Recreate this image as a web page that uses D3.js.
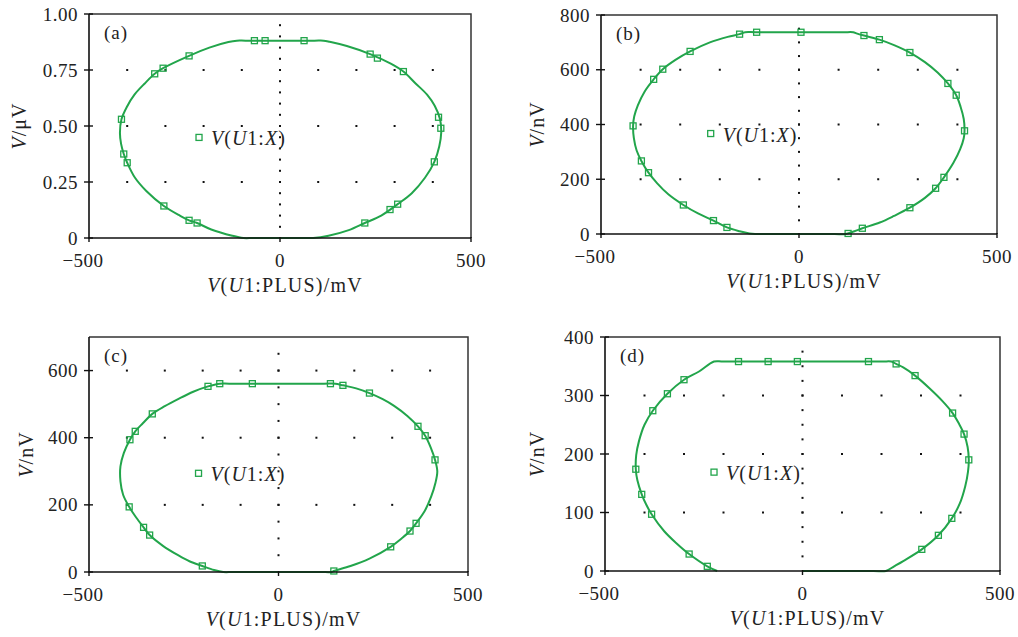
<!DOCTYPE html>
<html lang="en">
<head>
  <meta charset="UTF-8">
  <title>V(U1:X) vs V(U1:PLUS)</title>
  <script src="https://d3js.org/d3.v7.min.js"></script>
  <style>
    body { margin: 0; background: #fff; }
    text { font-family: "Liberation Serif", "Times New Roman", serif; fill: #222; }
  </style>
</head>
<body>
  <svg width="1018" height="637"></svg>

  <script>
    // x axis is shared by all panels (mV)
    const xTicks = [-500, 0, 500];
    const xTickLabels = ["\u2212500", "0", "500"];
    const xGridCols = [-400, -300, -200, -100, 0, 100, 200, 300, 400];

    // panel (a): V in uV
    const aYTicks = [0, 0.25, 0.5, 0.75, 1.0];
    const aYTickLabels = ["0", "0.25", "0.50", "0.75", "1.00"];
    const aCurve = [[0,0],[60,0],[87,0],[127,0.01],[180,0.035],[222,0.067],[265,0.1],[308,0.151],[345,0.2],
      [380,0.27],[404,0.34],[417,0.41],[422,0.47],[419,0.53],[405,0.59],[385,0.64],[355,0.69],[323,0.743],
      [290,0.778],[236,0.821],[175,0.857],[130,0.876],[114,0.881],[90,0.881],[-90,0.881],[-113,0.881],
      [-135,0.875],[-185,0.85],[-238,0.813],[-306,0.758],[-328,0.733],[-354,0.69],[-381,0.64],[-401,0.585],
      [-415,0.53],[-419,0.47],[-416,0.42],[-409,0.375],[-400,0.336],[-380,0.27],[-350,0.21],[-304,0.143],
      [-262,0.1],[-238,0.079],[-217,0.067],[-180,0.038],[-125,0.01],[-96,0],[-70,0],[0,0]];
    const aMarkers = [[-67,0.881],[-39,0.881],[63,0.881],[236,0.821],[255,0.803],[323,0.743],[415,0.539],[421,0.490],
      [404,0.340],[308,0.151],[288,0.127],[222,0.067],[-217,0.067],[-238,0.079],[-304,0.143],[-400,0.336],
      [-409,0.375],[-415,0.530],[-328,0.733],[-306,0.758],[-238,0.813]];
    const aLegend = [-212, 0.449];

    // panel (b): V in nV
    const bYTicks = [0, 200, 400, 600, 800];
    const bYTickLabels = ["0", "200", "400", "600", "800"];
    const bCurve = [[0,0],[90,0],[118,0],[140,10],[160,21],[204,42],[240,66],[280,96],[318,132],[345,167],
      [366,207],[390,260],[407,310],[416,350],[418,377],[416,420],[408,465],[397,507],[376,550],[350,590],
      [318,628],[280,663],[240,690],[203,710],[164,725],[145,733],[137,737],[110,737],[-110,737],[-136,737],
      [-150,730],[-180,720],[-225,700],[-275,667],[-312,636],[-344,602],[-367,565],[-390,520],[-407,470],
      [-416,430],[-419,395],[-417,350],[-410,305],[-398,267],[-380,224],[-358,185],[-330,145],[-292,106],
      [-255,75],[-216,49],[-182,24],[-150,10],[-125,2],[-111,0],[-85,0],[0,0]];
    const bMarkers = [[-419,395],[-398,267],[-380,224],[-292,106],[-216,49],[-182,24],[124,2],[160,21],[280,96],
      [345,167],[366,207],[397,507],[376,550],[418,377],[280,663],[203,710],[164,725],[5,737],[-107,737],
      [-150,730],[-275,667],[-344,602],[-367,565]];
    const bLegend = [-223, 367];

    // panel (c): V in nV
    const cYTicks = [0, 200, 400, 600];
    const cYTickLabels = ["0", "200", "400", "600"];
    const cCurve = [[0,0],[110,0],[140,0],[146,3],[190,18],[240,40],[296,75],[325,100],[347,122],[363,145],
      [385,180],[403,225],[414,265],[419,300],[413,334],[402,370],[387,406],[368,434],[340,465],[305,495],
      [275,515],[240,533],[205,547],[170,556],[150,561],[120,561],[-130,561],[-155,561],[-186,553],[-225,537],
      [-265,515],[-300,494],[-333,471],[-358,443],[-378,419],[-392,394],[-408,355],[-417,315],[-417,270],
      [-410,230],[-394,194],[-376,163],[-356,133],[-340,110],[-305,78],[-265,50],[-235,32],[-201,18],
      [-170,6],[-146,0],[-120,0],[0,0]];
    const cMarkers = [[-394,194],[-392,394],[-378,419],[-333,471],[-356,133],[-340,110],[-201,18],[-186,553],
      [-155,561],[-69,561],[137,561],[170,556],[240,533],[368,434],[387,406],[413,334],[363,145],[347,122],
      [296,75],[146,3]];
    const cLegend = [-211, 294];

    // panel (d): V in nV (trace is open: left end stops at -216 mV)
    const dYTicks = [0, 100, 200, 300, 400];
    const dYTickLabels = ["0", "100", "200", "300", "400"];
    const dCurve = [[0,0],[180,0],[211,0],[232,8],[255,17],[302,37],[344,61],[378,90],[398,115],[412,145],
      [419,170],[421,190],[418,212],[409,234],[396,252],[380,270],[355,290],[322,312],[285,334],[255,348],
      [237,354],[225,358],[200,358],[-200,358],[-224,358],[-262,341],[-300,327],[-342,303],[-379,274],
      [-400,250],[-414,222],[-421,198],[-422,174],[-418,155],[-407,131],[-396,114],[-382,97],[-350,68],
      [-320,48],[-287,29],[-241,8],[-216,0]];
    const dMarkers = [[-162,358],[-87,358],[-13,358],[167,358],[237,354],[285,334],[380,270],[409,234],[421,190],
      [378,90],[344,61],[302,37],[-241,8],[-287,29],[-382,97],[-407,131],[-422,174],[-379,274],[-342,303],
      [-300,327]];
    const dLegend = [-224, 169];

    const green = "#22a54b";
    const svg = d3.select("svg");

    const panels = [
      {tag: "(a)", unit: "\u03bcV", box: [89, 471, 14, 238], yMax: 1.0, yTicks: aYTicks, yLabels: aYTickLabels,
       dotStep: 0.05, dotTop: 0.95, curve: aCurve, markers: aMarkers, legend: aLegend, titleOff: 70},
      {tag: "(b)", unit: "nV", box: [601, 997, 15, 234], yMax: 800, yTicks: bYTicks, yLabels: bYTickLabels,
       dotStep: 50, dotTop: 750, curve: bCurve, markers: bMarkers, legend: bLegend, titleOff: 64},
      {tag: "(c)", unit: "nV", box: [89, 468, 337, 572], yMax: 700, yTicks: cYTicks, yLabels: cYTickLabels,
       dotStep: 50, dotTop: 650, curve: cCurve, markers: cMarkers, legend: cLegend, titleOff: 63},
      {tag: "(d)", unit: "nV", box: [605, 1000, 337, 571], yMax: 400, yTicks: dYTicks, yLabels: dYTickLabels,
       dotStep: 25, dotTop: 375, curve: dCurve, markers: dMarkers, legend: dLegend, titleOff: 68}
    ];

    panels.forEach(p => {
      const [left, right, top, bottom] = p.box;
      const x = d3.scaleLinear().domain([-500, 500]).range([left, right]);
      const y = d3.scaleLinear().domain([0, p.yMax]).range([bottom, top]);
      const g = svg.append("g");

      // dotted grid: rows at interior y ticks, column at x = 0
      const rows = p.yTicks.filter(v => v > 0 && v < p.yMax);
      rows.forEach(v => {
        g.selectAll(null).data(xGridCols).enter().append("rect")
          .attr("x", d => x(d) - 1).attr("y", y(v) - 1)
          .attr("width", 2).attr("height", 2).attr("fill", "#111");
      });
      const colDots = d3.range(p.dotStep, p.dotTop + p.dotStep / 2, p.dotStep);
      g.selectAll(null).data(colDots).enter().append("rect")
        .attr("x", x(0) - 1).attr("y", d => y(d) - 1)
        .attr("width", 2).attr("height", 2).attr("fill", "#111");

      // frame
      g.append("path")
        .attr("d", `M${left},${top}H${right}V${bottom}`)
        .attr("fill", "none").attr("stroke", "#333").attr("stroke-width", 1.5);

      // trace
      const line = d3.line().x(d => x(d[0])).y(d => y(d[1])).curve(d3.curveCatmullRom.alpha(0.5));
      g.append("path").datum(p.curve)
        .attr("d", line)
        .attr("fill", "none").attr("stroke", green).attr("stroke-width", 2);

      g.selectAll(null).data(p.markers).enter().append("rect")
        .attr("x", d => x(d[0]) - 3).attr("y", d => y(d[1]) - 3)
        .attr("width", 6).attr("height", 6)
        .attr("fill", "none").attr("stroke", green).attr("stroke-width", 1.3);

      // axes
      g.append("path")
        .attr("d", `M${left},${top}V${bottom}H${right}`)
        .attr("fill", "none").attr("stroke", "#111").attr("stroke-width", 1.6);
      g.selectAll(null).data(p.yTicks).enter().append("line")
        .attr("x1", left - 5).attr("x2", left + 4)
        .attr("y1", d => y(d)).attr("y2", d => y(d))
        .attr("stroke", "#111").attr("stroke-width", 1.4);
      g.selectAll(null).data(xTicks).enter().append("line")
        .attr("x1", d => x(d)).attr("x2", d => x(d))
        .attr("y1", bottom - 1).attr("y2", bottom + 4)
        .attr("stroke", "#111").attr("stroke-width", 1.4);

      g.selectAll(null).data(p.yTicks).enter().append("text")
        .attr("x", left - 11).attr("y", d => y(d))
        .attr("text-anchor", "end").attr("dominant-baseline", "central")
        .style("font-size", "19px").style("letter-spacing", "0.5px")
        .text((d, i) => p.yLabels[i]);
      g.selectAll(null).data(xTicks).enter().append("text")
        .attr("x", (d, i) => x(d) - (i === 0 ? 6 : 0)).attr("y", bottom + 29)
        .attr("text-anchor", "middle")
        .style("font-size", "19px").style("letter-spacing", "0.5px")
        .text((d, i) => xTickLabels[i]);

      // axis titles
      const xt = g.append("text")
        .attr("x", (left + right) / 2 + 5).attr("y", bottom + 54)
        .attr("text-anchor", "middle")
        .style("font-size", "20px").style("letter-spacing", "1.2px");
      xt.append("tspan").attr("font-style", "italic").text("V");
      xt.append("tspan").text("(");
      xt.append("tspan").attr("font-style", "italic").text("U");
      xt.append("tspan").text("1:PLUS)/mV");

      const yt = g.append("text")
        .attr("transform", `translate(${left - p.titleOff},${(top + bottom) / 2}) rotate(-90)`)
        .attr("text-anchor", "middle").attr("dominant-baseline", "central")
        .style("font-size", "20px").style("letter-spacing", "1px");
      yt.append("tspan").attr("font-style", "italic").text("V");
      yt.append("tspan").text("/" + p.unit);

      // panel tag
      g.append("text")
        .attr("x", left + 15).attr("y", top + 25)
        .style("font-size", "19px").style("letter-spacing", "1px").text(p.tag);

      // legend
      const lx = x(p.legend[0]), ly = y(p.legend[1]);
      g.append("rect")
        .attr("x", lx - 3).attr("y", ly - 3).attr("width", 6).attr("height", 6)
        .attr("fill", "none").attr("stroke", green).attr("stroke-width", 1.3);
      const lt = g.append("text")
        .attr("x", lx + 12).attr("y", ly + 8)
        .style("font-size", "20px").style("letter-spacing", "1px");
      lt.append("tspan").attr("font-style", "italic").text("V");
      lt.append("tspan").text("(");
      lt.append("tspan").attr("font-style", "italic").text("U");
      lt.append("tspan").text("1:");
      lt.append("tspan").attr("font-style", "italic").text("X");
      lt.append("tspan").text(")");
    });
  </script>
</body>
</html>
